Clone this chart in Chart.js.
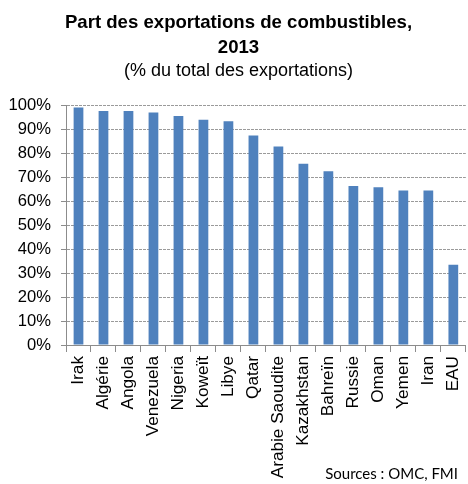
<!DOCTYPE html>
<html>
<head>
<meta charset="utf-8">
<script src="https://cdn.jsdelivr.net/npm/chart.js@4.4.1/dist/chart.umd.min.js"></script>
<style>
html,body{margin:0;padding:0;background:#fff;overflow:hidden;}
canvas{display:block;}
</style>
</head>
<body>
<canvas id="c" width="478" height="484"></canvas>
<script>
const categories = ["Irak","Algérie","Angola","Venezuela","Nigeria","Koweït","Libye","Qatar","Arabie Saoudite","Kazakhstan","Bahreïn","Russie","Oman","Yemen","Iran","EAU"];
const shares = [99.3, 97.8, 97.8, 97.2, 95.7, 94.2, 93.6, 87.6, 83.0, 75.8, 72.6, 66.5, 66.0, 64.6, 64.6, 33.6];
const titleLines = ["Part des exportations de combustibles,", "2013"];
const subtitleText = "(% du total des exportations)";
const sourceText = "Sources : OMC, FMI";

const sourcePlugin = {
  id: 'source',
  afterDraw(chart) {
    const ctx = chart.ctx;
    ctx.save();
    ctx.font = '15px Lato, "Open Sans", sans-serif';
    ctx.fillStyle = '#000';
    ctx.textAlign = 'right';
    ctx.textBaseline = 'alphabetic';
    ctx.fillText(sourceText, 458, 479);
    ctx.restore();
  }
};

new Chart(document.getElementById('c'), {
  type: 'bar',
  data: {
    labels: categories,
    datasets: [{
      data: shares,
      backgroundColor: '#4F81BD',
      borderWidth: 0,
      barPercentage: 0.39,
      categoryPercentage: 1.0
    }]
  },
  options: {
    responsive: false,
    animation: false,
    devicePixelRatio: 1,
    layout: { padding: { left: 0, right: 1, top: 0, bottom: 0 } },
    plugins: {
      legend: { display: false },
      tooltip: { enabled: false },
      title: {
        display: true,
        text: titleLines,
        color: '#000',
        font: { family: '"Liberation Sans", Arial, sans-serif', size: 18.6, weight: 'bold', lineHeight: 1.35 },
        padding: { top: 10, bottom: 0 }
      },
      subtitle: {
        display: true,
        text: subtitleText,
        color: '#000',
        font: { family: '"Liberation Sans", Arial, sans-serif', size: 18, weight: 'normal', lineHeight: 1.2 },
        padding: { top: 0, bottom: 24 }
      }
    },
    scales: {
      x: {
        offset: true,
        afterFit(scale) { scale.height = 139; },
        grid: { display: true, drawOnChartArea: false, drawTicks: true, tickLength: 7, color: '#8c8c8c', offset: true },
        border: { display: true, color: '#8c8c8c', width: 1 },
        ticks: {
          minRotation: 90, maxRotation: 90, autoSkip: false, padding: 4,
          color: '#000',
          font: { family: '"Liberation Sans", Arial, sans-serif', size: 17.2 }
        }
      },
      y: {
        min: 0, max: 100,
        afterFit(scale) { scale.width = 66; },
        grid: { display: true, drawOnChartArea: true, drawTicks: true, tickLength: 5, color: '#9a9a9a', tickColor: '#8c8c8c', tickBorderDash: [] },
        border: { display: true, color: '#8c8c8c', width: 1, dash: [3, 1] },
        ticks: {
          stepSize: 10, padding: 10,
          color: '#000',
          font: { family: '"Liberation Sans", Arial, sans-serif', size: 16.6 },
          callback: (v) => v + '%'
        }
      }
    }
  },
  plugins: [sourcePlugin]
});
</script>
</body>
</html>
